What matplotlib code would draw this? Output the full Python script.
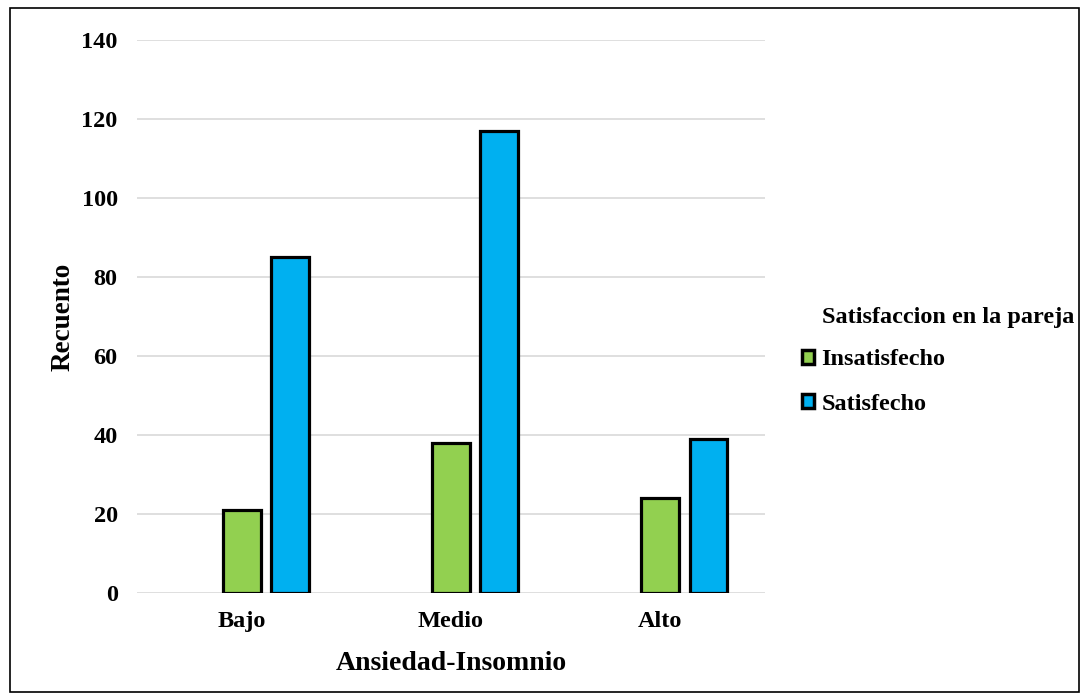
import numpy as np
import matplotlib.pyplot as plt
from matplotlib.patches import Rectangle

plt.rcParams['font.family'] = 'Liberation Serif'
plt.rcParams['font.weight'] = 'bold'

categorias = ['Bajo', 'Medio', 'Alto']
insatisfecho = [21, 38, 24]
satisfecho = [85, 117, 39]
series = ['Insatisfecho', 'Satisfecho']
colores = ['#92d050', '#00b0f0']

fig = plt.figure(figsize=(10.88, 7), dpi=100)
ax = fig.add_axes([0.126, 0.153, 0.577, 0.79])

x = np.arange(len(categorias))
w = 0.18
ax.bar(x, insatisfecho, w, color=colores[0], edgecolor='black', linewidth=2.3,
       label=series[0], zorder=3)
ax.bar(x + 0.23, satisfecho, w, color=colores[1], edgecolor='black', linewidth=2.3,
       label=series[1], zorder=3)

ax.set_xlim(-0.5, 2.5)
ax.set_ylim(0, 140)
ax.set_yticks(range(0, 141, 20))
ax.set_xticks(x)
ax.set_xticklabels(categorias, fontweight='bold')
ax.set_yticklabels([str(v) for v in range(0, 141, 20)], fontweight='bold')
ax.tick_params(axis='both', length=0, labelsize=17.5)
ax.tick_params(axis='y', pad=14)
ax.tick_params(axis='x', pad=13)
ax.grid(axis='y', color='#d9d9d9', linewidth=1.2, zorder=0)
for s in ax.spines.values():
    s.set_visible(False)

ax.set_xlabel('Ansiedad-Insomnio', fontsize=20, fontweight='bold', labelpad=14)
ax.set_ylabel('Recuento', fontsize=19.5, fontweight='bold', labelpad=4)

# titulo de la leyenda aparte, alineado con los textos
fig.text(0.7555, 1 - 318 / 700, 'Satisfaccion en la pareja', fontsize=17.5,
         fontweight='bold', va='center', ha='left')
leg = fig.legend(loc='center left', bbox_to_anchor=(0.737, 1 - 382 / 700),
                 frameon=False, prop={'size': 17.5, 'weight': 'bold'},
                 handlelength=0.5, handleheight=0.5, borderpad=0, borderaxespad=0,
                 handletextpad=0.3, labelspacing=0.95)
for h in leg.legend_handles:
    h.set_linewidth(2.5)

# marco exterior
fig.patches.append(Rectangle((0.009, 0.011), 0.983, 0.977, transform=fig.transFigure,
                             fill=False, edgecolor='black', linewidth=1.2))

fig.savefig('out.png', dpi=100)
